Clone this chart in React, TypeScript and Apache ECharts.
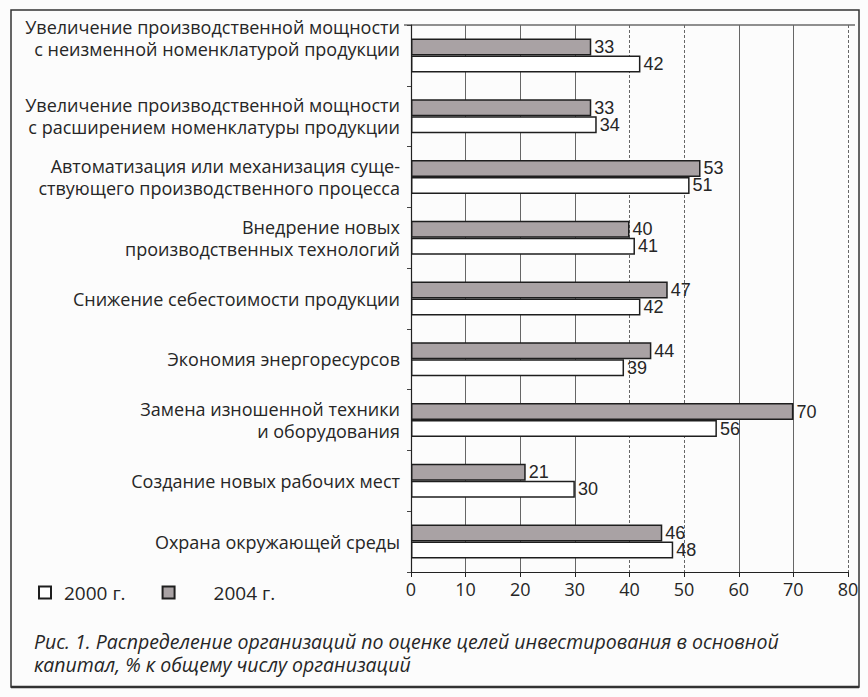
import React, { useEffect, useRef } from "react";
import * as echarts from "echarts";

const categories = [
  "Увеличение производственной мощности\nс неизменной номенклатурой продукции",
  "Увеличение производственной мощности\nс расширением номенклатуры продукции",
  "Автоматизация или механизация суще-\nствующего производственного процесса",
  "Внедрение новых\nпроизводственных технологий",
  "Снижение себестоимости продукции",
  "Экономия энергоресурсов",
  "Замена изношенной техники\nи оборудования",
  "Создание новых рабочих мест",
  "Охрана окружающей среды",
];
const values2004 = [33, 33, 53, 40, 47, 44, 70, 21, 46];
const values2000 = [42, 34, 51, 41, 42, 39, 56, 30, 48];
const seriesNames = ["2000 г.", "2004 г."];
const gridValues = [10, 20, 30, 40, 50, 60, 70, 80];
const dashedGridValues = [40, 50, 80];
const caption =
  "Рис. 1. Распределение организаций по оценке целей инвестирования в основной\nкапитал, % к общему числу организаций";

const TEXT = "#262626";
const FONT = "'Open Sans', 'Noto Sans', sans-serif";

export default function App() {
  const ref = useRef<HTMLDivElement>(null);
  useEffect(() => {
    if (!ref.current) return;
    const chart = echarts.init(ref.current, null, { renderer: "svg" });
    const labelStyle = {
      show: true,
      position: "right",
      distance: 3,
      fontFamily: "'Liberation Sans', Arial, sans-serif",
      fontSize: 18,
      color: TEXT,
    };
    chart.setOption({
      animation: false,
      backgroundColor: "#fcfcfc",
      textStyle: { fontFamily: FONT },
      grid: { left: 411, right: 20, top: 25, bottom: 125, containLabel: false },
      legend: {
        left: 33,
        top: 578,
        icon: "rect",
        itemWidth: 12,
        itemHeight: 12,
        itemGap: 36,
        selectedMode: false,
        data: [
          { name: seriesNames[0], textStyle: { padding: [0, 0, 0, 8] } },
          { name: seriesNames[1], textStyle: { padding: [0, 0, 0, 34] } },
        ],
        textStyle: { fontFamily: FONT, fontSize: 19, color: TEXT },
      },
      xAxis: {
        type: "value",
        min: 0,
        max: 80,
        interval: 10,
        axisLine: { show: true, lineStyle: { color: "#222", width: 1.2 } },
        axisTick: { show: true, length: 5, lineStyle: { color: "#222" } },
        splitLine: { show: false },
        axisLabel: { fontFamily: FONT, fontSize: 18, color: TEXT, margin: 8 },
      },
      yAxis: {
        type: "category",
        inverse: true,
        data: categories,
        axisLine: { show: true, lineStyle: { color: "#222", width: 1.2 } },
        axisTick: { show: true, length: 4, lineStyle: { color: "#444" } },
        axisLabel: {
          fontFamily: FONT,
          fontSize: 18,
          lineHeight: 22,
          color: TEXT,
          margin: 11,
          align: "right",
          interval: 0,
          showMinLabel: true,
          showMaxLabel: true,
          formatter: (value: string, index: number) =>
            index === 0
              ? value
                  .split("\n")
                  .map((l) => `{t|${l}}`)
                  .join("\n") + "\n{s| }"
              : value,
          rich: {
            t: { fontFamily: FONT, fontSize: 18, lineHeight: 22, color: TEXT },
            s: { fontSize: 10, lineHeight: 34 },
          },
        },
      },
      graphic: [
        {
          type: "rect",
          shape: { x: 11, y: 10, width: 848, height: 677 },
          style: { fill: "none", stroke: "#333", lineWidth: 1.5 },
          silent: true,
        },
        {
          type: "line",
          shape: { x1: 11, y1: 687, x2: 859, y2: 687 },
          style: { stroke: "#333", lineWidth: 2.5 },
          silent: true,
        },
        {
          type: "line",
          shape: { x1: 404, y1: 25, x2: 855, y2: 25 },
          style: { stroke: "#222", lineWidth: 1.2 },
          silent: true,
        },
        {
          type: "text",
          left: 34,
          top: 630,
          style: {
            text: caption,
            fontFamily: FONT,
            fontStyle: "italic",
            fontSize: 19.5,
            lineHeight: 23,
            fill: TEXT,
          },
          silent: true,
        },
      ],
      series: [
        {
          name: seriesNames[1],
          type: "bar",
          data: values2004,
          barWidth: 17,
          barGap: "0%",
          itemStyle: { color: "#a9a2a4", borderColor: "#1e1e1e", borderWidth: 1.5 },
          label: labelStyle,
          z: 3,
        },
        {
          name: seriesNames[0],
          type: "bar",
          data: values2000,
          barWidth: 17,
          barGap: "0%",
          itemStyle: { color: "#ffffff", borderColor: "#1e1e1e", borderWidth: 1.5 },
          label: labelStyle,
          z: 3,
          markLine: {
            silent: true,
            symbol: "none",
            z: 1,
            label: { show: false },
            data: gridValues.map((v) => ({
              xAxis: v,
              lineStyle: {
                color: "#666",
                width: 1,
                type: dashedGridValues.includes(v) ? [3, 2] : "solid",
              },
            })),
          },
        },
      ],
    });
    return () => chart.dispose();
  }, []);
  return (
    <div
      ref={ref}
      style={{ position: "fixed", left: 0, top: 0, width: 868, height: 697 }}
    />
  );
}
